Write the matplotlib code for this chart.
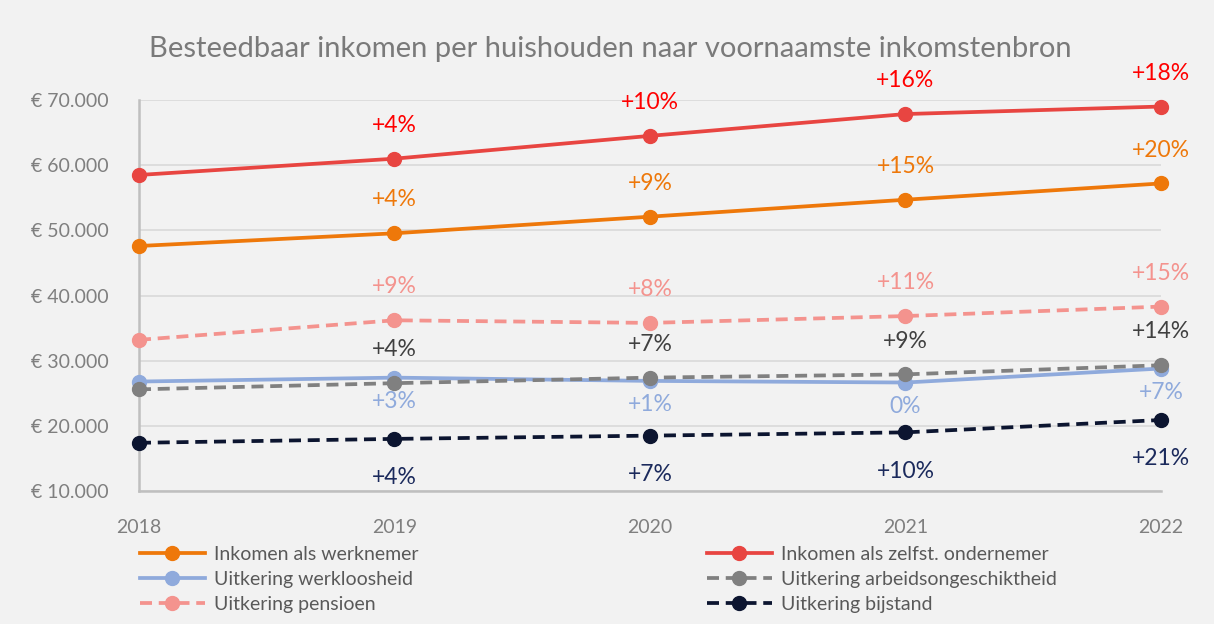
import matplotlib
matplotlib.use("Agg")
import matplotlib.pyplot as plt
from matplotlib import font_manager as fm

years = [2018, 2019, 2020, 2021, 2022]

werknemer = [47600, 49550, 52100, 54700, 57200]
zelfst = [58500, 61000, 64500, 67850, 69000]
pensioen = [33200, 36200, 35800, 36850, 38300]
arbeidsong = [25600, 26550, 27400, 27900, 29300]
werkloos = [26800, 27400, 26900, 26650, 28800]
bijstand = [17400, 18000, 18500, 19000, 20900]

lbl_werknemer = ["", "+4%", "+9%", "+15%", "+20%"]
lbl_zelfst = ["", "+4%", "+10%", "+16%", "+18%"]
lbl_pensioen = ["", "+9%", "+8%", "+11%", "+15%"]
lbl_arbeidsong = ["", "+4%", "+7%", "+9%", "+14%"]
lbl_werkloos = ["", "+3%", "+1%", "0%", "+7%"]
lbl_bijstand = ["", "+4%", "+7%", "+10%", "+21%"]

yticks = [10000, 20000, 30000, 40000, 50000, 60000, 70000]
ytick_labels = ["€ 10.000", "€ 20.000", "€ 30.000", "€ 40.000", "€ 50.000", "€ 60.000", "€ 70.000"]

title = "Besteedbaar inkomen per huishouden naar voornaamste inkomstenbron"

names = set(f.name for f in fm.fontManager.ttflist)
main_font = "Lato" if "Lato" in names else "DejaVu Sans"
leg_font = "Liberation Sans Narrow" if "Liberation Sans Narrow" in names else main_font

plt.rcParams["font.family"] = [main_font, "DejaVu Sans"]

bg = "#F2F2F2"
fig = plt.figure(figsize=(12.14, 6.24), dpi=100, facecolor=bg)
ax = fig.add_axes([0.1145, 0.2131, 0.8418, 0.6266])
ax.set_facecolor(bg)

dash = (0, (3.2, 1.8))
series = [
    ("Inkomen als werknemer", werknemer, lbl_werknemer, "#EE780A", "#EE780A", "-", 24),
    ("Inkomen als zelfst. ondernemer", zelfst, lbl_zelfst, "#E84541", "#FF0000", "-", 24),
    ("Uitkering werkloosheid", werkloos, lbl_werkloos, "#8FAADC", "#8FAADC", "-", -17),
    ("Uitkering arbeidsongeschiktheid", arbeidsong, lbl_arbeidsong, "#808080", "#404040", dash, 24),
    ("Uitkering pensioen", pensioen, lbl_pensioen, "#F4938E", "#F4938E", dash, 24),
    ("Uitkering bijstand", bijstand, lbl_bijstand, "#0C1530", "#1B2A5C", dash, -28),
]

handles = {}
for name, data, labels, lc, tc, ls, off in series:
    ln, = ax.plot(years, data, color=lc, lw=2.7, linestyle=ls, marker="o",
                  markersize=10, clip_on=False, zorder=3, label=name)
    handles[name] = ln
    for x, y, t in zip(years, data, labels):
        if t:
            ax.annotate(t, (x, y), xytext=(0, off), textcoords="offset points",
                        ha="center", va="center", fontsize=16.5, color=tc, zorder=4)

ax.set_xlim(2018, 2022)
ax.set_ylim(10000, 70000)
ax.set_xticks(years)
ax.set_xticklabels([str(y) for y in years])
ax.set_yticks(yticks)
ax.set_yticklabels(ytick_labels)
ax.tick_params(axis="both", length=0, labelsize=14, labelcolor="#7F7F7F")
ax.tick_params(axis="y", pad=22)
ax.tick_params(axis="x", pad=20)
ax.grid(axis="y", color="#D9D9D9", lw=1.2)
ax.set_axisbelow(True)
for s in ["top", "right"]:
    ax.spines[s].set_visible(False)
for s in ["left", "bottom"]:
    ax.spines[s].set_color("#BFBFBF")
    ax.spines[s].set_linewidth(1.8)

fig.text(0.503, 0.922, title, ha="center", va="center", fontsize=21,
         color="#7A7A7A", fontweight="normal")

col1 = ["Inkomen als werknemer", "Uitkering werkloosheid", "Uitkering pensioen"]
col2 = ["Inkomen als zelfst. ondernemer", "Uitkering arbeidsongeschiktheid", "Uitkering bijstand"]
legkw = dict(frameon=False, handlelength=3.35, handletextpad=0.5, labelspacing=0.4,
             prop={"family": [leg_font, "DejaVu Sans"], "size": 14}, labelcolor="#595959",
             borderaxespad=0, borderpad=0)
l1 = fig.legend([handles[n] for n in col1], col1, loc="upper left",
                bbox_to_anchor=(0.115, 0.125), **legkw)
l2 = fig.legend([handles[n] for n in col2], col2, loc="upper left",
                bbox_to_anchor=(0.582, 0.125), **legkw)

fig.savefig("out.png", dpi=100, facecolor=bg)
